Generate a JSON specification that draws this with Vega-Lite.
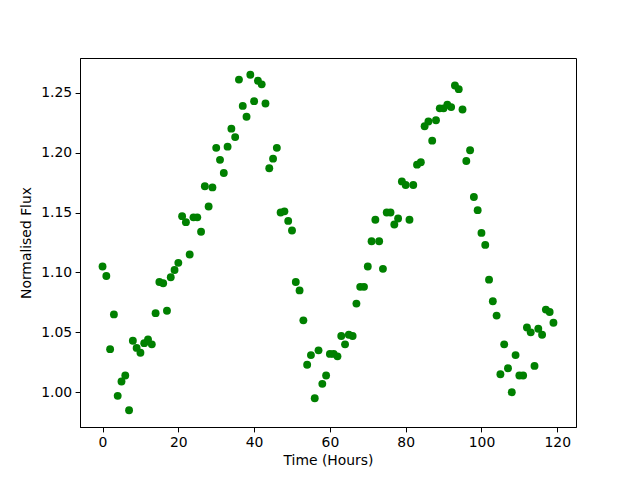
{
  "$schema": "https://vega.github.io/schema/vega-lite/v6.json",
  "width": 496,
  "height": 369,
  "autosize": {"type": "none"},
  "padding": {"left": 80, "top": 58, "right": 64, "bottom": 53},
  "background": "white",
  "config": {
    "view": {"stroke": "black", "strokeWidth": 1},
    "font": "DejaVu Sans",
    "axis": {
      "grid": false,
      "domainColor": "black",
      "tickColor": "black",
      "tickSize": 4.9,
      "labelFont": "DejaVu Sans",
      "labelFontSize": 13.9,
      "labelColor": "black",
      "titleFont": "DejaVu Sans",
      "titleFontSize": 13.9,
      "titleFontWeight": "normal",
      "titleColor": "black",
      "labelPadding": 3.5
    }
  },
  "data": {
    "values": [
      {"t":0,"f":1.105},{"t":1,"f":1.097},{"t":2,"f":1.036},{"t":3,"f":1.065},{"t":4,"f":0.997},
      {"t":5,"f":1.009},{"t":6,"f":1.014},{"t":7,"f":0.985},{"t":8,"f":1.043},{"t":9,"f":1.037},
      {"t":10,"f":1.033},{"t":11,"f":1.041},{"t":12,"f":1.044},{"t":13,"f":1.040},{"t":14,"f":1.066},
      {"t":15,"f":1.092},{"t":16,"f":1.091},{"t":17,"f":1.068},{"t":18,"f":1.096},{"t":19,"f":1.102},
      {"t":20,"f":1.108},{"t":21,"f":1.147},{"t":22,"f":1.142},{"t":23,"f":1.115},{"t":24,"f":1.146},
      {"t":25,"f":1.146},{"t":26,"f":1.134},{"t":27,"f":1.172},{"t":28,"f":1.155},{"t":29,"f":1.171},
      {"t":30,"f":1.204},{"t":31,"f":1.194},{"t":32,"f":1.183},{"t":33,"f":1.205},{"t":34,"f":1.220},
      {"t":35,"f":1.213},{"t":36,"f":1.261},{"t":37,"f":1.239},{"t":38,"f":1.230},{"t":39,"f":1.265},
      {"t":40,"f":1.243},{"t":41,"f":1.260},{"t":42,"f":1.257},{"t":43,"f":1.241},{"t":44,"f":1.187},
      {"t":45,"f":1.195},{"t":46,"f":1.204},{"t":47,"f":1.150},{"t":48,"f":1.151},{"t":49,"f":1.143},
      {"t":50,"f":1.135},{"t":51,"f":1.092},{"t":52,"f":1.085},{"t":53,"f":1.060},{"t":54,"f":1.023},
      {"t":55,"f":1.031},{"t":56,"f":0.995},{"t":57,"f":1.035},{"t":58,"f":1.007},{"t":59,"f":1.014},
      {"t":60,"f":1.032},{"t":61,"f":1.032},{"t":62,"f":1.030},{"t":63,"f":1.047},{"t":64,"f":1.040},
      {"t":65,"f":1.048},{"t":66,"f":1.047},{"t":67,"f":1.074},{"t":68,"f":1.088},{"t":69,"f":1.088},
      {"t":70,"f":1.105},{"t":71,"f":1.126},{"t":72,"f":1.144},{"t":73,"f":1.126},{"t":74,"f":1.103},
      {"t":75,"f":1.150},{"t":76,"f":1.150},{"t":77,"f":1.140},{"t":78,"f":1.145},{"t":79,"f":1.176},
      {"t":80,"f":1.173},{"t":81,"f":1.144},{"t":82,"f":1.173},{"t":83,"f":1.190},{"t":84,"f":1.192},
      {"t":85,"f":1.222},{"t":86,"f":1.226},{"t":87,"f":1.210},{"t":88,"f":1.227},{"t":89,"f":1.237},
      {"t":90,"f":1.237},{"t":91,"f":1.240},{"t":92,"f":1.238},{"t":93,"f":1.256},{"t":94,"f":1.253},
      {"t":95,"f":1.236},{"t":96,"f":1.193},{"t":97,"f":1.202},{"t":98,"f":1.163},{"t":99,"f":1.152},
      {"t":100,"f":1.133},{"t":101,"f":1.123},{"t":102,"f":1.094},{"t":103,"f":1.076},{"t":104,"f":1.064},
      {"t":105,"f":1.015},{"t":106,"f":1.040},{"t":107,"f":1.020},{"t":108,"f":1.000},{"t":109,"f":1.031},
      {"t":110,"f":1.014},{"t":111,"f":1.014},{"t":112,"f":1.054},{"t":113,"f":1.050},{"t":114,"f":1.022},
      {"t":115,"f":1.053},{"t":116,"f":1.048},{"t":117,"f":1.069},{"t":118,"f":1.067},{"t":119,"f":1.058}
    ]
  },
  "mark": {"type": "point", "filled": true, "color": "#008000", "opacity": 1, "size": 62},
  "encoding": {
    "x": {
      "field": "t", "type": "quantitative",
      "scale": {"domain": [-5.95, 124.95], "nice": false, "zero": false},
      "axis": {"title": "Time (Hours)", "values": [0, 20, 40, 60, 80, 100, 120], "format": "d", "titlePadding": 4}
    },
    "y": {
      "field": "f", "type": "quantitative",
      "scale": {"domain": [0.971, 1.279], "nice": false, "zero": false},
      "axis": {"title": "Normalised Flux", "values": [1.0, 1.05, 1.1, 1.15, 1.2, 1.25], "format": ".2f", "titlePadding": 7}
    }
  }
}
